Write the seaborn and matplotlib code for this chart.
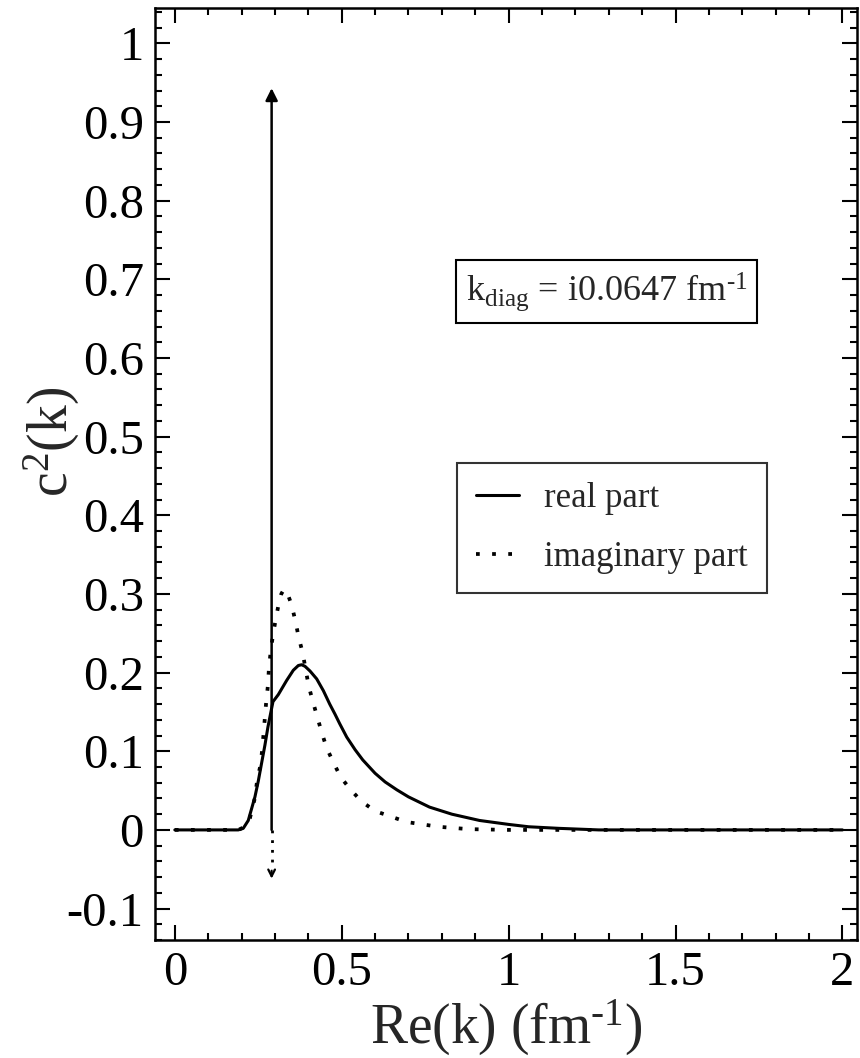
import matplotlib
matplotlib.use("Agg")
import matplotlib.pyplot as plt
import seaborn as sns
import pandas as pd

# ---- data ----
x_real = [0.0, 0.10, 0.19, 0.205, 0.22, 0.24, 0.25, 0.26, 0.27, 0.279, 0.294,
          0.31, 0.335, 0.355, 0.37, 0.38, 0.39, 0.405, 0.425, 0.445, 0.464,
          0.48, 0.494, 0.515, 0.54, 0.563, 0.60, 0.63, 0.665, 0.70, 0.763, 0.83,
          0.913, 1.0, 1.06, 1.15, 1.27, 1.5, 2.0]
y_real = [0.0, 0.0, 0.0, 0.002, 0.012, 0.042, 0.062, 0.085, 0.108, 0.131, 0.163,
          0.172, 0.190, 0.203, 0.209, 0.210, 0.208, 0.202, 0.192, 0.177, 0.160,
          0.147, 0.135, 0.118, 0.102, 0.089, 0.072, 0.061, 0.051, 0.042, 0.029,
          0.020, 0.012, 0.007, 0.004, 0.002, 0.0, 0.0, 0.0]

x_imag = [0.0, 0.10, 0.19, 0.21, 0.225, 0.24, 0.247, 0.257, 0.262, 0.266, 0.270,
          0.274, 0.279, 0.282, 0.287, 0.294, 0.302, 0.311, 0.319, 0.327, 0.338,
          0.35, 0.362, 0.371, 0.383, 0.392, 0.401, 0.413, 0.44, 0.455, 0.476,
          0.497, 0.527, 0.56, 0.60, 0.647, 0.695, 0.79, 0.88, 1.0, 1.5, 2.0]
y_imag = [0.0, 0.0, 0.0, 0.004, 0.015, 0.041, 0.064, 0.083, 0.103, 0.123, 0.144,
          0.164, 0.184, 0.206, 0.226, 0.248, 0.267, 0.287, 0.300, 0.306, 0.300,
          0.286, 0.264, 0.245, 0.225, 0.204, 0.183, 0.164, 0.124, 0.104, 0.085,
          0.067, 0.051, 0.036, 0.024, 0.017, 0.010, 0.004, 0.001, 0.0, 0.0, 0.0]

arrow_x = 0.29
arrow_top = 0.943
arrow_bottom = -0.062

HY = "\u2010"  # typographic hyphen for the "-1" superscripts
legend_labels = ["real part", "imaginary part"]
box_text = r"k$_{\rm diag}$ = i0.0647 fm$^{\rm " + HY + "1}$"
x_label = r"Re(k) (fm$^{\rm " + HY + "1}$)"
y_label = r"c$^{\rm 2}$(k)"
x_ticks = [0, 0.5, 1, 1.5, 2]
x_tick_labels = ["0", "0.5", "1", "1.5", "2"]
y_ticks = [-0.1, 0, 0.1, 0.2, 0.3, 0.4, 0.5, 0.6, 0.7, 0.8, 0.9, 1.0]
y_tick_labels = ["-0.1", "0", "0.1", "0.2", "0.3", "0.4", "0.5", "0.6",
                 "0.7", "0.8", "0.9", "1"]

# ---- style ----
sns.set_style("ticks")
plt.rcParams["font.family"] = ["Liberation Serif", "DejaVu Serif"]
plt.rcParams["mathtext.fontset"] = "custom"
plt.rcParams["mathtext.rm"] = "Liberation Serif"
plt.rcParams["mathtext.it"] = "Liberation Serif:italic"
plt.rcParams["mathtext.bf"] = "Liberation Serif:bold"
plt.rcParams["axes.unicode_minus"] = False

fig = plt.figure(figsize=(8.6, 10.58), dpi=100)
ax = fig.add_axes([0.180, 0.1115, 0.817, 0.881])

df_real = pd.DataFrame({"x": x_real, "y": y_real})
df_imag = pd.DataFrame({"x": x_imag, "y": y_imag})

sns.lineplot(data=df_real, x="x", y="y", ax=ax, color="black", lw=2.2,
             estimator=None, sort=False, label=legend_labels[0])
sns.lineplot(data=df_imag, x="x", y="y", ax=ax, color="black", lw=2.7,
             estimator=None, sort=False, label=legend_labels[1],
             linestyle=(0, (1, 3.3)))

# vertical arrow (up, solid)
ax.annotate("", xy=(arrow_x, arrow_top), xytext=(arrow_x, 0.0),
            arrowprops=dict(arrowstyle="-|>", color="black", lw=1.8,
                            mutation_scale=18, shrinkA=0, shrinkB=0))
# downward dotted part
ax.plot([arrow_x, arrow_x], [0.0, arrow_bottom + 0.012], color="black",
        lw=2.0, linestyle=(0, (1, 2.5)))
ax.annotate("", xy=(arrow_x, arrow_bottom), xytext=(arrow_x, arrow_bottom + 0.010),
            arrowprops=dict(arrowstyle="->", color="black", lw=1.6,
                            mutation_scale=12, shrinkA=0, shrinkB=0))

ax.set_xlim(-0.06, 2.045)
ax.set_ylim(-0.14, 1.045)
ax.set_xticks(x_ticks)
ax.set_xticklabels(x_tick_labels)
ax.set_yticks(y_ticks)
ax.set_yticklabels(y_tick_labels)
ax.set_xticks([i / 10 for i in range(0, 21)], minor=True)
ax.set_yticks([i / 50 for i in range(-7, 53)], minor=True)

ax.tick_params(which="both", direction="in", top=True, right=True,
               width=1.5, colors="black")
ax.tick_params(which="major", length=11, labelsize=35, pad=8)
ax.tick_params(which="minor", length=5)
ax.tick_params(axis="x", which="major", pad=8)

for s in ax.spines.values():
    s.set_linewidth(1.8)
    s.set_color("black")

ax.set_xlabel(x_label, fontsize=40)
ax.xaxis.set_label_coords(0.5, -0.0625, transform=ax.transAxes)
ax.xaxis.label.set_va("top")
ax.set_ylabel(y_label, fontsize=40)
ax.yaxis.set_label_coords(-0.146, 0.534, transform=ax.transAxes)
ax.yaxis.label.set_va("center")

leg = ax.legend(loc="upper left", bbox_to_anchor=(0.43, 0.512), fontsize=25,
                frameon=True, fancybox=False, edgecolor="black",
                handlelength=1.25, handletextpad=0.7, borderpad=0.55,
                labelspacing=0.75, borderaxespad=0.0)
leg.get_frame().set_linewidth(1.5)

ax.text(0.643, 0.696, box_text, transform=ax.transAxes, fontsize=26,
        ha="center", va="center",
        bbox=dict(boxstyle="square,pad=0.28", fc="white", ec="black", lw=1.5))

fig.savefig("out.png", dpi=100)
